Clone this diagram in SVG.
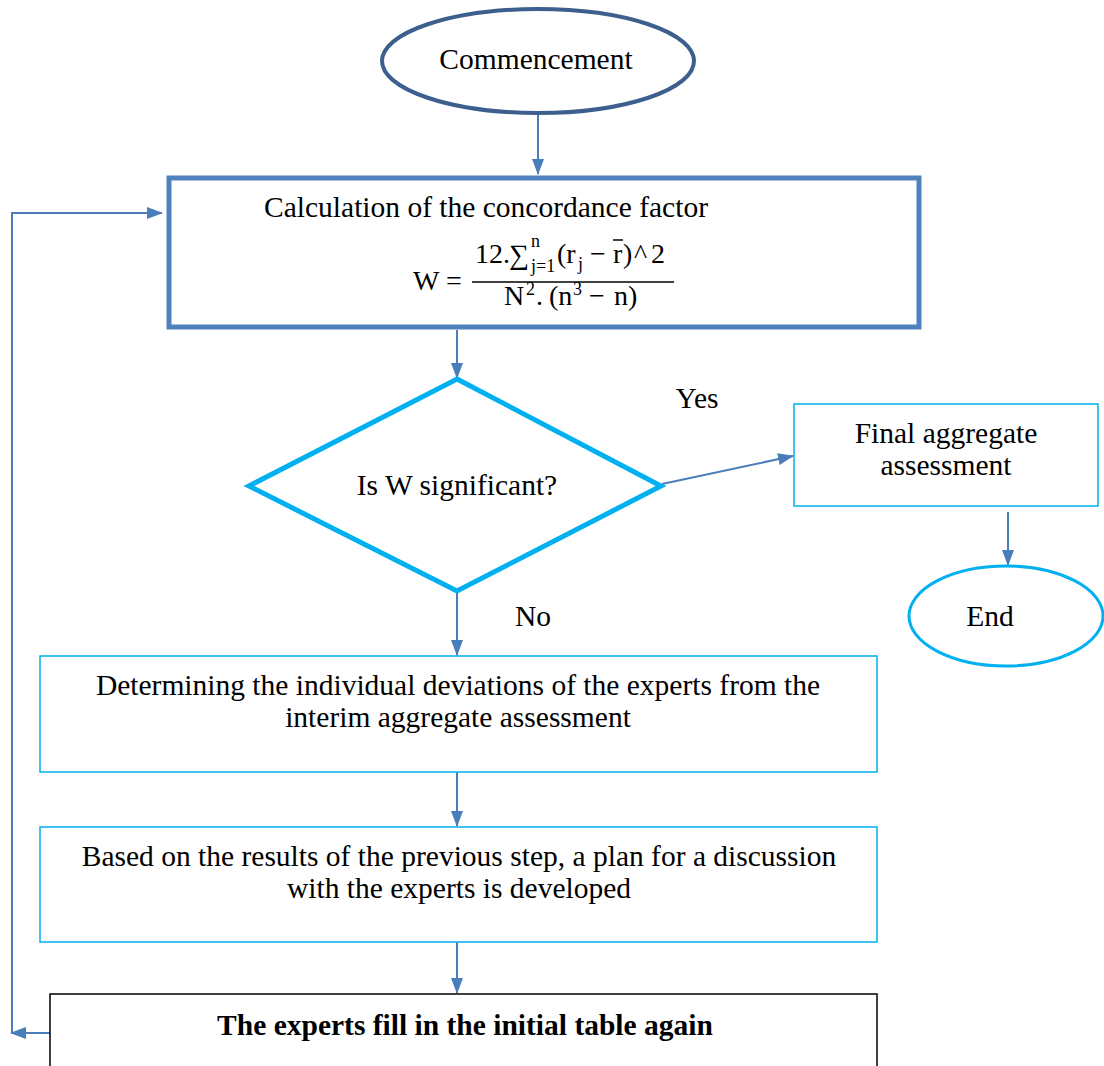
<svg xmlns="http://www.w3.org/2000/svg" width="1104" height="1066" viewBox="0 0 1104 1066">
<style>
text{font-family:"Liberation Serif","Times New Roman",serif;font-size:29.5px;fill:#000}
.c{text-anchor:middle}
.b{font-weight:bold}
.conn{stroke:#4a7ebb;stroke-width:2;fill:none}
.f{font-size:28px}
.s{font-size:18px}
</style>
<defs>
<marker id="ah" markerWidth="16" markerHeight="12" refX="15" refY="6" orient="auto" markerUnits="userSpaceOnUse">
<path d="M0,0 L16,6 L0,12 Z" fill="#4a7ebb"/>
</marker>
</defs>
<g id="connectors">
<line class="conn" x1="538" y1="114" x2="538" y2="174" marker-end="url(#ah)"/>
<line class="conn" x1="457" y1="330" x2="457" y2="378" marker-end="url(#ah)"/>
<line class="conn" x1="662" y1="484" x2="793" y2="456" marker-end="url(#ah)"/>
<line class="conn" x1="1008" y1="512" x2="1008" y2="565" marker-end="url(#ah)"/>
<line class="conn" x1="457" y1="592" x2="457" y2="655" marker-end="url(#ah)"/>
<line class="conn" x1="457" y1="772" x2="457" y2="826" marker-end="url(#ah)"/>
<line class="conn" x1="457" y1="941" x2="457" y2="993" marker-end="url(#ah)"/>
<line class="conn" x1="50" y1="1033" x2="11" y2="1033" marker-end="url(#ah)"/>
<polyline class="conn" points="12,1033 12,213 162,213" marker-end="url(#ah)"/>
<text x="697" y="408" class="c">Yes</text>
<text x="533" y="626" class="c">No</text>
</g>
<g id="start">
<ellipse cx="538" cy="61" rx="156" ry="52" fill="#fff" stroke="#3c5f8e" stroke-width="4"/>
<text x="536" y="69" class="c">Commencement</text>
</g>
<g id="calc">
<rect x="169" y="178" width="750" height="149" fill="#fff" stroke="#4f81bd" stroke-width="5"/>
<text x="486" y="217" class="c">Calculation of the concordance factor</text>
<text x="413" y="290" class="f">W =</text>
<line x1="472" y1="282" x2="674" y2="282" stroke="#000" stroke-width="1.6"/>
<text class="f"><tspan x="475" y="263">12.</tspan><tspan x="509" y="264">∑</tspan><tspan class="s" x="531" y="272">j=1</tspan><tspan class="s" x="531" y="247">n</tspan><tspan x="557" y="263">(r</tspan><tspan class="s" x="578" y="270">j</tspan><tspan x="590" y="263">−</tspan><tspan x="613" y="263">r</tspan><tspan x="623" y="263">)</tspan><tspan x="634" y="263">^</tspan><tspan x="651" y="263">2</tspan></text>
<line x1="613" y1="240" x2="623" y2="240" stroke="#000" stroke-width="1.5"/>
<text class="f"><tspan x="504" y="305">N</tspan><tspan class="s" x="526" y="295">2</tspan><tspan x="536" y="305">.</tspan><tspan x="549" y="305">(n</tspan><tspan class="s" x="573" y="295">3</tspan><tspan x="589" y="305">−</tspan><tspan x="614" y="305">n)</tspan></text>
</g>
<g id="decision">
<polygon points="457,379 661,486 457,591 249,486" fill="#fff" stroke="#00b0f0" stroke-width="5"/>
<text x="457" y="495" class="c">Is W significant?</text>
</g>
<g id="final">
<rect x="794" y="404" width="304" height="102" fill="#fff" stroke="#00b0f0" stroke-width="1.5"/>
<text x="946" y="443" class="c">Final aggregate</text>
<text x="946" y="475" class="c">assessment</text>
</g>
<g id="end">
<ellipse cx="1006" cy="616" rx="97" ry="50" fill="#fff" stroke="#00b0f0" stroke-width="3"/>
<text x="990" y="626" class="c">End</text>
</g>
<g id="deviations">
<rect x="40" y="656" width="837" height="116" fill="#fff" stroke="#00b0f0" stroke-width="1.5"/>
<text x="458" y="695" class="c">Determining the individual deviations of the experts from the</text>
<text x="458" y="727" class="c">interim aggregate assessment</text>
</g>
<g id="plan">
<rect x="40" y="827" width="837" height="115" fill="#fff" stroke="#00b0f0" stroke-width="1.5"/>
<text x="459" y="866" class="c">Based on the results of the previous step, a plan for a discussion</text>
<text x="459" y="898" class="c">with the experts is developed</text>
</g>
<g id="refill">
<rect x="50" y="994" width="827" height="80" fill="#fff" stroke="#000" stroke-width="1.5"/>
<text x="465" y="1035" class="c b">The experts fill in the initial table again</text>
</g>
</svg>
